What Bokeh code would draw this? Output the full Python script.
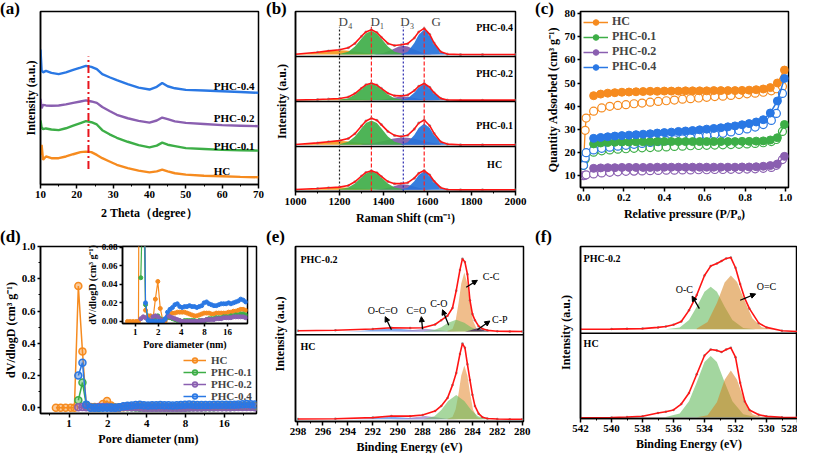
from bokeh.plotting import figure
from bokeh.models import (Range1d, Label, Span, Legend, LegendItem, FixedTicker, Div,
                          Arrow, NormalHead, GridBox, PrintfTickFormatter, BasicTickFormatter)
from bokeh.embed import file_html
from bokeh.resources import INLINE

FONT = "Liberation Serif"
SAMPLES = ["HC", "PHC-0.1", "PHC-0.2", "PHC-0.4"]
COLORS = ["#F68B1F", "#3DAE47", "#8A5FB0", "#2A78E4"]

# ---------------- (a) XRD ----------------
XRD_2T = [10, 10.3, 10.7, 11.5, 13, 15, 17, 19, 21, 22.5, 24, 25.5, 27, 29, 31, 34, 37, 40, 42, 43.5, 45, 47, 50, 55, 60, 65, 70]
XRD_HC = [17.1, 22.9, 14.3, 16.2, 15.2, 15.2, 16.2, 17.5, 18.7, 19.0, 18.7, 17.1, 15.2, 13.3, 11.4, 9.5, 8.0, 7.0, 7.6, 8.6, 7.6, 6.5, 5.7, 5.1, 4.8, 4.4, 4.2]
XRD_P01 = [37.0, 33.0, 32.0, 32.4, 31.8, 31.4, 32.5, 34.0, 35.5, 36.6, 36.0, 34.7, 31.4, 29.0, 27.0, 24.7, 22.8, 21.5, 22.5, 24.2, 23.0, 22.2, 21.0, 20.5, 20.0, 19.8, 19.6]
XRD_P02 = [49.5, 44.0, 46.0, 45.7, 45.5, 45.7, 46.3, 47.2, 48.0, 48.6, 48.0, 47.2, 44.8, 42.5, 40.3, 38.3, 36.8, 35.8, 37.0, 38.7, 37.8, 36.5, 35.6, 35.0, 34.3, 34.0, 33.7]
XRD_P04 = [78.0, 66.0, 64.8, 65.7, 64.5, 63.8, 64.8, 66.3, 67.6, 68.6, 68.0, 66.7, 63.8, 62.0, 60.3, 58.0, 56.0, 54.9, 56.5, 58.7, 56.8, 55.6, 54.7, 54.3, 53.9, 53.5, 53.0]
XRD_SERIES = [XRD_HC, XRD_P01, XRD_P02, XRD_P04]
XRD_PEAK = 23.2

# ---------------- (b) Raman ----------------
X_D4 = [1000, 1050, 1100, 1150, 1200, 1230, 1260, 1290, 1320, 1350]
X_D1 = [1200, 1240, 1270, 1300, 1320, 1345, 1370, 1390, 1420, 1450, 1490]
X_D3 = [1300, 1350, 1400, 1440, 1470, 1490, 1510, 1540, 1580, 1620, 1660]
X_G = [1480, 1510, 1540, 1560, 1585, 1610, 1630, 1660, 1690]
X_FIT = [1000, 1100, 1150, 1200, 1240, 1270, 1300, 1320, 1345, 1370, 1390, 1420, 1450, 1480, 1510, 1540, 1560, 1585, 1610, 1630, 1660, 1690, 1750, 1850, 2000]
RAMAN_BASE = [4, 4, 3, 4.5]
D4 = [[4.3, 5.1, 6.5, 8.2, 9, 8.7, 7.9, 6.9, 5.9, 5.1],
      [4.5, 5.7, 8, 10.7, 12, 11.5, 10.2, 8.6, 7.0, 5.7],
      [3.2, 3.6, 4.5, 5.5, 6, 5.8, 5.3, 4.7, 4.1, 3.6],
      [5.1, 6.5, 9.3, 12.5, 14, 13.4, 11.9, 9.9, 8.0, 6.5]]
D1 = [[4.8, 8.9, 17.9, 31.9, 40.5, 45, 40.5, 31.9, 17.9, 8.9, 4.8],
      [5.1, 10.5, 22.4, 40.7, 52.1, 58, 52.1, 40.7, 22.4, 10.5, 5.1],
      [3.7, 7.4, 15.6, 28.2, 35.9, 40, 35.9, 28.2, 15.6, 7.4, 3.7],
      [5.5, 10.8, 22.4, 40.2, 51.2, 57, 51.2, 40.2, 22.4, 10.8, 5.5]]
D3 = [[4, 4.1, 5.9, 10.8, 14.9, 16, 14.9, 10.8, 5.9, 4.2, 4],
      [5.0, 7.5, 12.5, 17.1, 19.5, 20, 19.5, 17.1, 12.5, 8.3, 5.6],
      [3, 3.1, 4.3, 7.6, 10.3, 11, 10.3, 7.6, 4.3, 3.2, 3],
      [4.5, 4.7, 7.6, 15.6, 22.2, 24, 22.2, 15.6, 7.6, 4.9, 4.5]]
GB = [[4.4, 8.5, 22.9, 36.4, 45, 36.4, 22.9, 8.5, 4.4],
      [4.5, 9.2, 25.6, 41.1, 51, 41.1, 25.6, 9.2, 4.5],
      [3.4, 7.0, 19.6, 31.4, 39, 31.4, 19.6, 7.0, 3.4],
      [5.1, 10.6, 30.0, 48.3, 60, 48.3, 30.0, 10.6, 5.1]]
RFIT = [[4.3, 6.5, 8.2, 9.8, 13.4, 21.5, 34.4, 42.4, 46.3, 41.7, 33.5, 22.1, 17.4, 17.6, 19.6, 29.7, 40.4, 46.6, 36.9, 22.9, 8.5, 4.6, 4, 4, 4],
        [4.5, 8, 10.7, 13.1, 17.7, 28.4, 45.7, 56.7, 62.8, 58.3, 48.7, 33.6, 24.7, 22.1, 25.0, 38.7, 52.0, 58.8, 46.2, 29.1, 10.8, 5.3, 4, 4, 4],
        [3.2, 4.5, 5.5, 6.7, 10.1, 17.7, 29.7, 37.0, 40.8, 36.6, 29.2, 18.3, 13.0, 12.4, 14.5, 24.2, 34.0, 40.0, 31.7, 19.6, 7.0, 3.5, 3, 3, 3],
        [5.1, 9.3, 12.5, 15.1, 19.3, 29.1, 44.9, 54.7, 59.4, 53.3, 43.0, 29.1, 24.6, 26.0, 28.6, 41.1, 54.7, 62.5, 49.1, 30.0, 10.6, 5.3, 4.5, 4.5, 4.5]]
BANDS = [1200, 1345, 1490, 1585]
BAND_NAMES = ["D\u2084", "D\u2081", "D\u2083", "G"]

# ---------------- (c) N2 isotherms ----------------
P_ADS = [0.05, 0.085, 0.12, 0.155, 0.19, 0.225, 0.26, 0.295, 0.33, 0.365, 0.4, 0.435, 0.47, 0.505, 0.54, 0.575, 0.61, 0.645, 0.68, 0.715, 0.75, 0.785, 0.82, 0.855, 0.89, 0.925, 0.96, 0.995]
Q_FILLED = [
    [44.5, 45.2, 45.6, 45.8, 46.0, 46.1, 46.2, 46.3, 46.4, 46.4, 46.5, 46.5, 46.5, 46.6, 46.6, 46.6, 46.6, 46.7, 46.7, 46.7, 46.7, 46.8, 46.9, 47.1, 47.4, 48.0, 50.0, 55.6],
    [23.6, 24.0, 24.2, 24.3, 24.4, 24.4, 24.5, 24.5, 24.5, 24.6, 24.6, 24.6, 24.6, 24.6, 24.6, 24.6, 24.6, 24.6, 24.6, 24.6, 24.6, 24.7, 24.7, 24.8, 24.9, 25.3, 26.3, 32.0],
    [13.0, 13.2, 13.3, 13.3, 13.4, 13.4, 13.4, 13.4, 13.4, 13.5, 13.5, 13.5, 13.5, 13.5, 13.5, 13.5, 13.5, 13.5, 13.5, 13.5, 13.5, 13.6, 13.6, 13.7, 13.9, 14.2, 14.9, 18.2],
    [26.0, 26.4, 26.7, 27.0, 27.2, 27.4, 27.6, 27.8, 28.0, 28.3, 28.5, 28.7, 29.0, 29.2, 29.4, 29.7, 30.0, 30.3, 30.6, 31.0, 31.4, 31.9, 32.4, 33.1, 34.1, 37.0, 42.2, 52.0]]
P_OPEN = [0.0, 0.008, 0.013, 0.05, 0.09, 0.13, 0.17, 0.21, 0.25, 0.29, 0.33, 0.37, 0.41, 0.45, 0.49, 0.53, 0.57, 0.61, 0.65, 0.69, 0.73, 0.77, 0.81, 0.85, 0.89, 0.93, 0.955, 0.985]
Q_OPEN = [
    [14.5, 29.5, 34.8, 37.8, 39.2, 39.9, 40.3, 40.6, 41.0, 41.3, 41.7, 42.0, 42.3, 42.6, 43.0, 43.2, 43.5, 43.8, 44.1, 44.3, 44.6, 45.0, 45.3, 45.6, 46.0, 46.6, 47.5, 48.5],
    [14.3, 17.0, 19.5, 20.0, 20.6, 21.0, 21.3, 21.5, 21.7, 21.9, 22.0, 22.2, 22.3, 22.5, 22.6, 22.8, 22.9, 23.0, 23.1, 23.2, 23.3, 23.4, 23.6, 23.8, 24.1, 24.6, 25.5, 29.0],
    [9.8, 10.0, 10.2, 10.6, 11.0, 11.3, 11.5, 11.7, 11.8, 11.9, 12.0, 12.1, 12.2, 12.2, 12.3, 12.3, 12.4, 12.4, 12.5, 12.5, 12.6, 12.6, 12.7, 12.8, 13.0, 13.4, 14.3, 16.8],
    [14.3, 17.5, 19.8, 21.0, 21.7, 22.2, 22.6, 23.0, 23.4, 23.8, 24.2, 24.6, 25.0, 25.4, 25.8, 26.2, 26.7, 27.2, 27.7, 28.2, 28.8, 29.4, 30.1, 30.9, 32.0, 33.8, 36.8, 45.5]]

# ---------------- (d) pore size distribution ----------------
PORE_D = [0.79, 0.86, 0.94, 1.03, 1.10, 1.18, 1.27, 1.36, 1.47, 1.58, 1.70, 1.83, 1.97, 2.12, 2.28, 2.45, 2.64, 2.84, 3.06, 3.29, 3.54, 3.81, 4.10, 4.41, 4.75, 5.11, 5.50, 5.92, 6.37, 6.86, 7.38, 7.94, 8.55, 9.20, 9.90, 10.66, 11.47, 12.35, 13.29, 14.30, 15.4, 16.6, 17.8, 19.2, 20.6, 22.2, 23.9, 25.7, 27.7]
PSD_HC = [0, 0, 0, 0, 0, 0.755, 0.35, 0.012, 0.006, 0.006, 0.002, 0.024, 0.043, 0.014, 0.002, 0.0, 0.004, 0.008, 0.009, 0.009, 0.010, 0.010, 0.010, 0.010, 0.009, 0.008, 0.007, 0.006, 0.006, 0.007, 0.008, 0.009, 0.009, 0.009, 0.008, 0.008, 0.009, 0.009, 0.009, 0.009, 0.009, 0.010, 0.010, 0.011, 0.011, 0.012, 0.013, 0.013, 0.012]
PSD_P01 = [0.047, 0.157, 0.018, 0.002, 0.0, 0.001, 0.004, 0.006, 0.003, 0.001, 0.002, 0.005, 0.004, 0.003, 0.002, 0.001, 0.001, 0.0, 0.001, 0.001, 0.001, 0.001, 0.001, 0.0, 0.001, 0.001, 0.0, 0.002, 0.003, 0.003, 0.003, 0.004, 0.004, 0.004, 0.005, 0.005, 0.005, 0.006, 0.006, 0.007, 0.007, 0.008, 0.008, 0.007]
PSD_P02 = [0.003, 0.005, 0.004, 0.002, 0.001, 0.005, 0.006, 0.005, 0.002, 0.001, 0.002, 0.006, 0.005, 0.004, 0.003, 0.002, 0.001, 0.0, 0.0, 0.0, 0.0, 0.0, 0.0, 0.0, 0.0, 0.001, 0.001, 0.002, 0.002, 0.002, 0.002, 0.003, 0.003, 0.003, 0.004, 0.004, 0.004, 0.004, 0.005, 0.005, 0.005, 0.005, 0.005, 0.004]
PSD_P04 = [0.20, 0.28, 0.020, 0.001, 0.0, 0.0, 0.0, 0.0, 0.0, 0.0, 0.003, 0.010, 0.013, 0.015, 0.018, 0.019, 0.016, 0.015, 0.016, 0.016, 0.017, 0.016, 0.016, 0.015, 0.016, 0.017, 0.020, 0.021, 0.019, 0.018, 0.017, 0.017, 0.018, 0.019, 0.019, 0.019, 0.020, 0.019, 0.020, 0.021, 0.022, 0.024, 0.023, 0.021]
PSD = [PSD_HC, PSD_P01, PSD_P02, PSD_P04]

# ---------------- (e) C 1s XPS (index 0 = HC, 1 = PHC-0.2) ----------------
C_BE = [298, 295, 292, 290.5, 289, 288, 287, 286.5, 286, 285.6, 285.3, 285.0, 284.8, 284.6, 284.4, 284.2, 284.0, 283.8, 283.5, 283.2, 282.8, 282, 281, 280]
C_FIT = [[2.8, 3.2, 4.5, 6.3, 6.2, 7.5, 12, 18, 27, 42, 56, 78, 90, 85, 66, 48, 31, 18, 9, 5, 3.5, 2.8, 2.6, 2.6],
         [4.7, 5.4, 6.8, 8.3, 8.0, 8.3, 12, 17, 22, 31, 51, 75, 88, 84, 70, 40, 24, 17, 10, 7, 5.2, 4.2, 4, 3.8]]
C_BASE = [2.6, 4.0]
X_CC = [286.0, 285.6, 285.35, 285.1, 284.9, 284.65, 284.4, 284.2, 283.95, 283.65, 283.25]
CC = [[3.2, 5.1, 13.8, 33.6, 52.8, 64.6, 52.8, 33.6, 13.8, 5.1, 3.2],
      [4.7, 6.7, 16.2, 38, 59.1, 72, 59.1, 38, 16.2, 6.7, 4.7]]
X_CO = [287.9, 287.05, 286.5, 285.95, 285.3, 284.65, 284.1, 283.55, 282.7]
CO = [[2.9, 6.0, 13.2, 23.6, 30.6, 23.6, 13.2, 6.0, 2.9],
      [4.1, 5.5, 8.7, 13.9, 17.5, 13.9, 8.7, 5.5, 4.1]]
X_CEO = [290.5, 289.5, 288.8, 287.8, 286.8, 286.1, 285.1]
CEO = [[2.6, 3.1, 4.5, 6.4, 4.5, 3.1, 2.6],
       [4, 4.4, 5.5, 7, 5.5, 4.4, 4]]
X_OCO = [294.5, 293, 292, 290.5, 289, 288, 286.5]
OCO = [[2.6, 3.0, 4.1, 5.6, 4.1, 3.0, 2.6],
       [4, 4.5, 5.8, 7.5, 5.8, 4.5, 4]]
X_CP = [284.6, 284.2, 283.9, 283.6, 283.3, 283.0, 282.6]
CP_P02 = [4, 5, 6.5, 7.5, 6.5, 5, 4]

# ---------------- (f) O 1s XPS ----------------
O_BE = [542, 540, 539, 538, 537, 536.5, 536, 535.5, 535, 534.5, 534, 533.6, 533.2, 532.9, 532.6, 532.3, 532.0, 531.7, 531.4, 531.1, 530.5, 530, 529, 528]
O_FIT = [[0.8, 1.2, 1.8, 2.7, 6.4, 8, 10, 17, 30, 52, 74, 81, 80, 78, 81, 83, 72, 42, 20, 10, 4.5, 2.5, 1.5, 1.2],
         [4.8, 5.0, 5.3, 5.6, 7, 8, 10, 14, 27, 45, 68, 79, 82, 85, 88, 89, 77, 58, 41, 29, 12, 7, 3, 2.2]]
O_BASE = [1.5, 4.8]
X_OC = [536.5, 535.6, 535.0, 534.5, 534.0, 533.6, 533.2, 532.7, 532.2, 531.5, 530.7]
OC = [[1.7, 5.8, 20.2, 42.5, 66.3, 73.5, 66.3, 42.5, 20.2, 5.1, 1.7],
      [4.8, 6.8, 15.8, 31.3, 48.8, 54.8, 48.8, 31.3, 15.8, 6.3, 4.8]]
X_OEC = [534.5, 533.8, 533.2, 532.7, 532.3, 531.9, 531.4, 530.9, 530.3, 529.5]
OEC = [[1.6, 3.9, 19.1, 45.5, 56.5, 45.5, 19.1, 5.1, 1.7, 1.5],
       [5.7, 13.3, 35.7, 59.6, 67.8, 60.2, 37.6, 17.4, 7.3, 4.8]]


def style_axis(ax, size="11px"):
    ax.axis_line_width = 1.5
    ax.major_tick_line_width = 1.5
    ax.minor_tick_line_width = 1
    ax.major_tick_in = 0
    ax.major_tick_out = 4
    ax.minor_tick_in = 0
    ax.minor_tick_out = 2
    ax.major_label_text_font = FONT
    ax.major_label_text_font_style = "bold"
    ax.major_label_text_font_size = size
    ax.major_label_text_color = "black"
    ax.axis_label_text_font = FONT
    ax.axis_label_text_font_style = "bold"
    ax.axis_label_text_font_size = "12px"
    ax.axis_label_text_color = "black"
    ax.major_label_standoff = 2
    ax.axis_label_standoff = 4


def make_fig(fw, fh, bl, br, bt, bb, xr, yr, xtype="linear"):
    p = figure(frame_width=fw, frame_height=fh, x_range=xr, y_range=yr, x_axis_type=xtype,
               output_backend="svg", toolbar_location=None,
               min_border_left=bl, min_border_right=br, min_border_top=bt, min_border_bottom=bb)
    p.outline_line_color = "black"
    p.outline_line_width = 1.5
    p.outline_line_alpha = 1.0
    p.xgrid.visible = False
    p.ygrid.visible = False
    style_axis(p.xaxis[0])
    style_axis(p.yaxis[0])
    return p


def txt(p, x, y, text, size="11px", bold=True, align="left", color="black"):
    p.add_layout(Label(x=x, y=y, text=text, text_font=FONT,
                       text_font_style="bold" if bold else "normal", text_font_size=size,
                       text_align=align, text_baseline="middle", text_color=color))


def no_ticks(ax, standoff):
    ax.ticker = FixedTicker(ticks=[])
    ax.major_tick_out = 0
    ax.minor_tick_out = 0
    ax.axis_label_standoff = standoff


def tag(text, left, top):
    return Div(text=text, width=34, height=22, margin=(top, 0, 0, left),
               styles={"font-family": FONT, "font-weight": "bold", "font-size": "17px",
                       "line-height": "18px", "color": "black"})


# ================= (a) =================
pa = make_fig(218, 173, 37, 11, 11, 41, Range1d(10, 70), Range1d(0, 100))
pa.xaxis.ticker = FixedTicker(ticks=[10, 20, 30, 40, 50, 60, 70], minor_ticks=[15, 25, 35, 45, 55, 65])
pa.xaxis.axis_label = "2 Theta\uff08degree\uff09"
pa.xaxis.axis_label_standoff = 5
no_ticks(pa.yaxis[0], 3)
pa.yaxis.axis_label = "Intensity (a.u.)"
for ys, col in zip(XRD_SERIES, COLORS):
    pa.line(XRD_2T, ys, line_color=col, line_width=2.4)
pa.segment(x0=[XRD_PEAK], y0=[9], x1=[XRD_PEAK], y1=[74], line_color="#E8141C",
           line_width=2, line_dash="8 3 2 3")
for name, yl in zip(SAMPLES, [7.6, 22.5, 38.5, 57]):
    txt(pa, 57.7, yl, name)

# ================= (b) =================
R_COL = {"D4": "#F39A1F", "D3": "#7F5AA8", "D1": "#3FAE49", "G": "#2572DA"}
pb = make_fig(220, 180, 29, 19, 5, 40, Range1d(1000, 2000), Range1d(0, 400))
pb.xaxis.ticker = FixedTicker(ticks=[1000, 1200, 1400, 1600, 1800, 2000], minor_ticks=[1100, 1300, 1500, 1700, 1900])
pb.xaxis.axis_label = "Raman Shift (cm\u207b\u00b9)"
pb.xaxis.axis_label_standoff = 3
no_ticks(pb.yaxis[0], 7)
pb.yaxis.axis_label = "Intensity (a.u.)"
for i in range(4):
    off = 100 * i
    base = RAMAN_BASE[i] + off
    for xs, ys, key in [(X_D4, D4[i], "D4"), (X_D3, D3[i], "D3"), (X_D1, D1[i], "D1"), (X_G, GB[i], "G")]:
        pb.varea(x=xs, y1=[base] * len(xs), y2=[v + off for v in ys], fill_color=R_COL[key], fill_alpha=0.92)
band_styles = [("#222222", "2 2"), ("#FF2020", "4 2"), ("#2B2BB0", "2 2"), ("#FF2020", "4 2")]
for bx, (bc, bd) in zip(BANDS, band_styles):
    pb.segment(x0=[bx], y0=[0], x1=[bx], y1=[366], line_color=bc, line_dash=bd, line_width=1.2)
for i in range(4):
    off = 100 * i
    yy = [v + off for v in RFIT[i]]
    pb.scatter(X_FIT, yy, marker="circle", size=3, fill_color="#9a9a9a", line_color=None, alpha=0.9)
    pb.line(X_FIT, yy, line_color="#FF1414", line_width=1.6)
for sep in [100, 200, 300]:
    pb.add_layout(Span(location=sep, dimension="width", line_color="black", line_width=1.5))
for name, off, yl in zip(SAMPLES, [0, 100, 200, 300], [60, 46, 62, 65]):
    txt(pb, 1905, off + yl, name, size="10px", align="center")
for bx, bn, dx in zip(BANDS, BAND_NAMES, [6, 6, 4, 12]):
    pb.add_layout(Label(x=bx, y=377, text=bn, x_offset=dx, text_font=FONT, text_font_size="13px",
                        text_align="center", text_baseline="middle"))

# ================= (c) =================
pc = make_fig(208, 176, 46, 9, 9, 40, Range1d(-0.015, 1.015), Range1d(4.7, 81))
pc.xaxis.ticker = FixedTicker(ticks=[0, 0.2, 0.4, 0.6, 0.8, 1.0], minor_ticks=[0.1, 0.3, 0.5, 0.7, 0.9])
pc.xaxis.formatter = PrintfTickFormatter(format="%.1f")
pc.xaxis.axis_label = "Relative pressure (P/P\u2080)"
pc.xaxis.axis_label_standoff = 3
pc.yaxis.ticker = FixedTicker(ticks=[10, 20, 30, 40, 50, 60, 70, 80])
pc.yaxis.axis_label = "Quantity Adsorbed (cm\u00b3 g\u207b\u00b9)"
pc.yaxis.axis_label_standoff = 2
pc.yaxis.major_tick_out = 3
items_c = []
for qs, col in zip(Q_OPEN, COLORS):
    pc.line(P_OPEN, qs, line_color=col, line_width=1.3)
    pc.scatter(P_OPEN, qs, marker="circle", size=8, fill_color="white", line_color=col, line_width=1.2)
for name, qs, col in zip(SAMPLES, Q_FILLED, COLORS):
    r1 = pc.line(P_ADS, qs, line_color=col, line_width=1.5)
    r2 = pc.scatter(P_ADS, qs, marker="circle", size=8, fill_color=col, line_color=col)
    items_c.append(LegendItem(label=name, renderers=[r1, r2]))
leg_c = Legend(items=items_c, location="top_left", margin=0, padding=3, spacing=0,
               label_height=14, glyph_height=14, glyph_width=25, label_standoff=4,
               label_text_font=FONT, label_text_font_style="bold", label_text_font_size="12px",
               background_fill_alpha=0, border_line_alpha=0)
pc.add_layout(leg_c)

# ================= (d) =================
pd_ = make_fig(219, 167, 37, 10, 21, 40, Range1d(0.6, 28.5), Range1d(-0.035, 1.0), xtype="log")
pd_.xaxis.ticker = FixedTicker(ticks=[1, 2, 4, 8, 16], minor_ticks=[0.707, 1.414, 2.83, 5.66, 11.31, 22.63])
pd_.xaxis.formatter = BasicTickFormatter()
pd_.xaxis.axis_label = "Pore diameter (nm)"
pd_.xaxis.axis_label_standoff = 2
pd_.yaxis.ticker = FixedTicker(ticks=[0, 0.2, 0.4, 0.6, 0.8, 1.0], minor_ticks=[0.1, 0.3, 0.5, 0.7, 0.9])
pd_.yaxis.formatter = PrintfTickFormatter(format="%.1f")
pd_.yaxis.axis_label = "dV/dlogD (cm\u00b3 g\u207b\u00b9)"
pd_.yaxis.axis_label_standoff = 1
pd_.yaxis.major_tick_out = 3
items_d = []
for name, ys, col in zip(SAMPLES, PSD, COLORS):
    xs = PORE_D[len(PORE_D) - len(ys):]
    r1 = pd_.line(xs, ys, line_color=col, line_width=1.5)
    r2 = pd_.scatter(xs, ys, marker="circle", size=7, fill_color=col, fill_alpha=0.45, line_color=col,
                     line_width=1.5)
    items_d.append(LegendItem(label=name, renderers=[r1, r2]))
leg_d = Legend(items=items_d, location=(143, 11), margin=0, padding=0, spacing=0,
               label_height=12, glyph_height=12, glyph_width=23, label_standoff=5,
               label_text_font=FONT, label_text_font_style="bold", label_text_font_size="11px",
               background_fill_alpha=0, border_line_alpha=0)
pd_.add_layout(leg_d)

# inset
pi = make_fig(129, 77, 35, 19, 21, 28, Range1d(0.68, 29.3), Range1d(-0.0022, 0.0806), xtype="log")
pi.border_fill_alpha = 0
pi.background_fill_color = "white"
pi.xaxis.ticker = FixedTicker(ticks=[1, 2, 4, 8, 16])
pi.xaxis.formatter = BasicTickFormatter()
pi.xaxis.axis_label = "Pore diameter (nm)"
pi.yaxis.ticker = FixedTicker(ticks=[0, 0.02, 0.04, 0.06, 0.08])
pi.yaxis.formatter = PrintfTickFormatter(format="%.2f")
pi.yaxis.axis_label = "dV/dlogD (cm\u00b3 g\u207b\u00b9)"
for ax in (pi.xaxis[0], pi.yaxis[0]):
    ax.major_label_text_font_size = "9px"
    ax.axis_label_text_font_size = "10px"
    ax.axis_label_standoff = 1
    ax.major_tick_out = 3
for ys, col in zip(PSD, COLORS):
    xs = PORE_D[len(PORE_D) - len(ys):]
    pi.line(xs, ys, line_color=col, line_width=1.2)
    pi.scatter(xs, ys, marker="circle", size=4, fill_color=col, line_color=col)

# ================= (e) =================
pe = make_fig(229, 175, 25, 14, 13, 40, Range1d(298.2, 279.9), Range1d(0, 202))
pe.xaxis.ticker = FixedTicker(ticks=list(range(298, 279, -2)), minor_ticks=list(range(297, 280, -2)))
pe.xaxis.axis_label = "Binding Energy (eV)"
pe.xaxis.axis_label_standoff = 2
no_ticks(pe.yaxis[0], 9)
pe.yaxis.axis_label = "Intensity (a.u.)"
for i in range(2):
    off = 100 * i
    base = C_BASE[i] + off
    comps = [(X_OCO, OCO[i], "#5B8DE6", 0.75), (X_CEO, CEO[i], "#9A86C8", 0.75),
             (X_CC, CC[i], "#E3892E", 0.55), (X_CO, CO[i], "#6DBD5E", 0.6)]
    if i == 1:
        comps.append((X_CP, CP_P02, "#4A2A5C", 0.85))
    for xs, ys, col, al in comps:
        pe.varea(x=xs, y1=[base] * len(xs), y2=[v + off for v in ys], fill_color=col, fill_alpha=al)
    yy = [v + off for v in C_FIT[i]]
    pe.scatter(C_BE, yy, marker="circle", size=2.5, fill_color="#8a8a8a", line_color=None)
    pe.line(C_BE, yy, line_color="#FF1414", line_width=1.6)
pe.add_layout(Span(location=100, dimension="width", line_color="black", line_width=1.5))
txt(pe, 297.8, 187, "PHC-0.2", size="10px")
txt(pe, 297.8, 86, "HC", size="10px")
E_NOTES = [("C-C", 282.5, 167, 284.5, 155, 283.6, 163),
           ("C-P", 281.8, 118, 283.6, 105.8, 282.6, 116),
           ("C-O", 286.7, 136, 285.9, 111, 286.4, 129),
           ("C=O", 288.5, 128, 288.0, 106.5, 288.1, 121),
           ("O-C=O", 291.2, 128, 290.5, 105.8, 291.0, 121)]
for t, tx, ty, x0, y0, x1, y1 in E_NOTES:
    txt(pe, tx, ty, t, size="10px", bold=False, align="center")
    pe.add_layout(Arrow(end=NormalHead(size=5, line_color="black", fill_color="black"),
                        x_start=x0, y_start=y0, x_end=x1, y_end=y1, line_width=1.3))

# ================= (f) =================
pf = make_fig(217, 172, 36, 10, 16, 40, Range1d(542, 528), Range1d(0, 202))
pf.xaxis.ticker = FixedTicker(ticks=list(range(542, 527, -2)), minor_ticks=list(range(541, 528, -2)))
pf.xaxis.axis_label = "Binding Energy (eV)"
pf.xaxis.axis_label_standoff = 2
no_ticks(pf.yaxis[0], 8)
pf.yaxis.axis_label = "Intensity (a.u.)"
for i in range(2):
    off = 100 * i
    base = O_BASE[i] + off
    pf.varea(x=X_OC, y1=[base] * len(X_OC), y2=[v + off for v in OC[i]], fill_color="#7CC576", fill_alpha=0.7)
    pf.varea(x=X_OEC, y1=[base] * len(X_OEC), y2=[v + off for v in OEC[i]], fill_color="#D6821E", fill_alpha=0.55)
    yy = [v + off for v in O_FIT[i]]
    pf.scatter(O_BE, yy, marker="circle", size=2.5, fill_color="#8a8a8a", line_color=None)
    pf.line(O_BE, yy, line_color="#FF1414", line_width=1.6)
pf.add_layout(Span(location=100, dimension="width", line_color="black", line_width=1.5))
txt(pf, 541.8, 188, "PHC-0.2", size="10px")
txt(pf, 541.8, 88, "HC", size="10px")
F_NOTES = [("O-C", 535.3, 152, 534.33, 129, 534.8, 143.7),
           ("O=C", 530.0, 155, 531.7, 138.9, 530.7, 146.3)]
for t, tx, ty, x0, y0, x1, y1 in F_NOTES:
    txt(pf, tx, ty, t, size="10px", bold=False, align="center")
    pf.add_layout(Arrow(end=NormalHead(size=5, line_color="black", fill_color="black"),
                        x_start=x0, y_start=y0, x_end=x1, y_end=y1, line_width=1.3))

grid = GridBox(children=[(pa, 0, 0, 1, 2), (pb, 0, 2, 1, 1), (pc, 0, 3, 1, 1),
                         (pd_, 1, 0, 2, 2), (pi, 1, 1, 1, 1), (pe, 1, 2, 2, 1), (pf, 1, 3, 2, 1),
                         (tag("(a)", 0, 0), 0, 0), (tag("(b)", 0, 0), 0, 2), (tag("(c)", 1, 0), 0, 3),
                         (tag("(d)", 0, 3), 1, 0), (tag("(e)", 0, 3), 1, 2), (tag("(f)", 1, 3), 1, 3)],
               rows=["225px", "130px", "98px"], cols=["83px", "183px", "268px", "263px"],
               styles={"overflow": "hidden"})

open("out.html", "w").write(file_html(grid, INLINE))
